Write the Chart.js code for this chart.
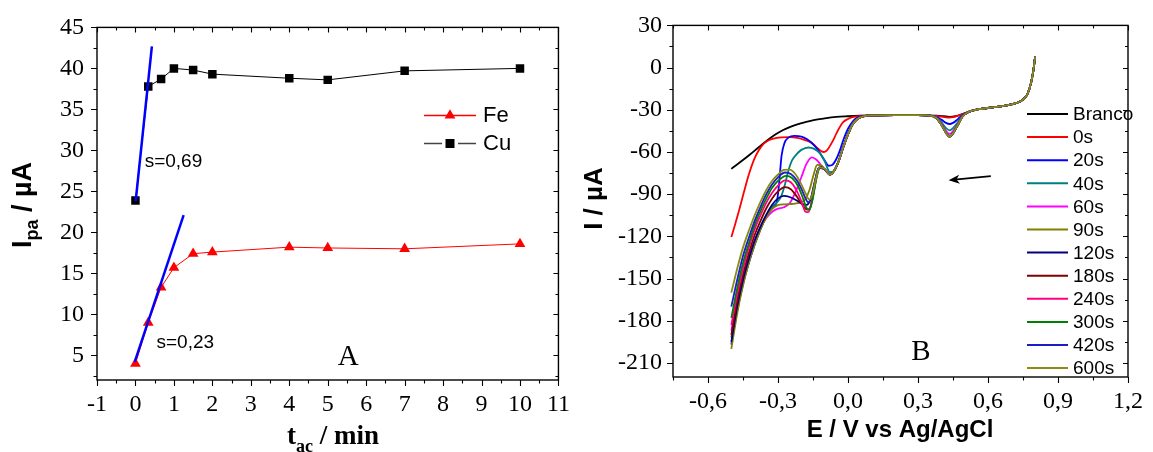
<!DOCTYPE html>
<html><head><meta charset="utf-8">
<script src="https://cdn.jsdelivr.net/npm/chart.js@4/dist/chart.umd.min.js"></script>
<style>
html,body{margin:0;padding:0;background:#fff;}
#wrap{position:relative;width:1153px;height:452px;overflow:hidden;background:#fff;}
canvas{position:absolute;top:0;}
#cA{left:0;} #cB{left:580px;}
</style></head><body>
<div id="wrap"><canvas id="cA" width="580" height="452"></canvas><canvas id="cB" width="573" height="452"></canvas></div>
<script>
// ---------- Panel A data (accumulation time / min vs Ipa / uA) ----------
const tMin   = [0, 0.333, 0.667, 1, 1.5, 2, 4, 5, 7, 10];
const cuIpa  = [23.9, 37.8, 38.7, 40.0, 39.8, 39.3, 38.8, 38.6, 39.7, 40.0];
const feIpa  = [4.0, 9.0, 13.3, 15.7, 17.4, 17.6, 18.2, 18.1, 18.0, 18.6];
const cuFit  = [[0.006, 23.8], [0.427, 42.7]];
const feFit  = [[-0.019, 4.2], [1.253, 22.1]];
const seriesNamesA = ['Fe', 'Cu'];
const slopeLabels = ['s=0,69', 's=0,23'];

// ---------- Panel B data (E / V vs I / uA) ----------
const curveLabels = ['Branco','0s','20s','40s','60s','90s','120s','180s','240s','300s','420s','600s'];
const curveColors = ['#000000','#ff0000','#0000ff','#008080','#ff00ff','#808000','#000080','#800000','#ff0080','#008000','#1c1cc8','#8c8c14'];

const bBranco = [[-0.5,-72],[-0.46,-67],[-0.42,-61.8],[-0.38,-56.3],[-0.34,-51],[-0.31,-47.4],[-0.28,-44.5],[-0.25,-42.3],[-0.217,-40.3],[-0.18,-38.6],[-0.147,-37.3],[-0.1,-36.1],[-0.05,-35.1],[0.0,-34.6],[0.05,-34.2]];
const b0s = [[-0.5,-120.5],[-0.483,-111],[-0.467,-101.6],[-0.446,-88.5],[-0.425,-76],[-0.404,-66],[-0.383,-59],[-0.362,-54.3],[-0.342,-51.8],[-0.31,-50.2],[-0.286,-49.6],[-0.25,-49.5],[-0.217,-50],[-0.19,-51.2],[-0.161,-53],[-0.14,-55.8],[-0.119,-58.9],[-0.106,-60],[-0.095,-59.5],[-0.085,-57.7],[-0.068,-53],[-0.05,-47],[-0.036,-42.5],[-0.022,-39],[0.0,-36.5],[0.019,-35.2],[0.05,-34.4]];
const b20s = [[-0.5,-197],[-0.475,-173],[-0.45,-154],[-0.425,-139],[-0.4,-126],[-0.375,-115],[-0.35,-106],[-0.325,-99.5],[-0.305,-95.5],[-0.295,-82],[-0.285,-63],[-0.272,-53.5],[-0.255,-49.8],[-0.23,-48.6],[-0.2,-49],[-0.175,-51],[-0.15,-54.5],[-0.125,-59.5],[-0.1,-66],[-0.083,-69.8],[-0.068,-69.3],[-0.05,-65],[-0.035,-59],[-0.02,-51.5],[0.0,-43.5],[0.02,-38.3],[0.04,-35.6],[0.07,-34.3]];
const b40s = [[-0.5,-192],[-0.475,-170],[-0.45,-152],[-0.425,-137],[-0.4,-124],[-0.375,-113],[-0.35,-105],[-0.325,-99],[-0.3,-95],[-0.285,-91],[-0.27,-83],[-0.255,-73],[-0.24,-66],[-0.22,-61.5],[-0.2,-58.5],[-0.17,-56.8],[-0.145,-57.8],[-0.12,-61],[-0.1,-66.5],[-0.078,-74.3]];
const b60s = [[-0.5,-187],[-0.475,-166],[-0.45,-149],[-0.425,-135],[-0.4,-123],[-0.375,-114],[-0.35,-107],[-0.325,-102.5],[-0.3,-100.3],[-0.275,-99.3],[-0.25,-96.5],[-0.225,-88.5],[-0.2,-78],[-0.178,-68.5],[-0.155,-63.8],[-0.135,-65.5],[-0.115,-69.5],[-0.095,-73.5],[-0.078,-75.5]];
const b90s = [[-0.5,-200],[-0.475,-175],[-0.45,-155],[-0.425,-139],[-0.4,-126],[-0.375,-115],[-0.35,-106.5],[-0.325,-100.5],[-0.3,-97.8],[-0.27,-97.2],[-0.24,-97],[-0.21,-96.2],[-0.185,-94],[-0.165,-87],[-0.148,-76.5],[-0.132,-69.2],[-0.115,-69.6],[-0.095,-73],[-0.078,-76]];
const b120s = [[-0.5,-195],[-0.475,-170],[-0.45,-151],[-0.425,-136],[-0.4,-123],[-0.375,-113],[-0.35,-104.5],[-0.325,-97.5],[-0.3,-93],[-0.275,-91.2],[-0.25,-92],[-0.22,-94.5],[-0.195,-97],[-0.178,-97.6],[-0.16,-93.5],[-0.145,-83],[-0.13,-73],[-0.118,-70.8],[-0.1,-72.3],[-0.078,-76]];
const b180s = [[-0.5,-190],[-0.475,-166],[-0.45,-147],[-0.425,-132],[-0.4,-119],[-0.375,-109],[-0.35,-100],[-0.325,-93],[-0.3,-88],[-0.27,-85],[-0.245,-86.5],[-0.22,-91.5],[-0.198,-97],[-0.175,-101],[-0.162,-99.5],[-0.148,-89.5],[-0.132,-75.5],[-0.118,-71],[-0.1,-72.5],[-0.078,-76]];
const b240s = [[-0.5,-183],[-0.475,-161],[-0.45,-143],[-0.425,-128],[-0.4,-115],[-0.375,-105],[-0.35,-96],[-0.325,-89],[-0.3,-84],[-0.27,-80.2],[-0.245,-81.5],[-0.22,-87.5],[-0.2,-95],[-0.182,-102.5],[-0.17,-102.8],[-0.155,-95],[-0.138,-80],[-0.122,-71.5],[-0.1,-72.5],[-0.078,-76]];
const b300s = [[-0.5,-178],[-0.475,-157],[-0.45,-139],[-0.425,-125],[-0.4,-112],[-0.375,-102],[-0.35,-93],[-0.325,-85.5],[-0.3,-80.5],[-0.265,-77],[-0.24,-78.5],[-0.215,-84],[-0.195,-92],[-0.177,-100],[-0.166,-101.2],[-0.152,-94],[-0.136,-79.5],[-0.12,-71],[-0.1,-72.3],[-0.078,-76]];
const b420s = [[-0.5,-170],[-0.475,-151],[-0.45,-134],[-0.425,-121],[-0.4,-109],[-0.375,-99],[-0.35,-90],[-0.325,-83],[-0.3,-78],[-0.27,-74.6],[-0.245,-75.6],[-0.22,-80],[-0.2,-86],[-0.182,-93],[-0.17,-95.8],[-0.156,-91.5],[-0.14,-79.5],[-0.125,-71.2],[-0.1,-72.2],[-0.078,-76]];
const b600s = [[-0.5,-160],[-0.475,-143],[-0.45,-128],[-0.425,-116],[-0.4,-105],[-0.375,-95.5],[-0.35,-87],[-0.325,-80.5],[-0.3,-76],[-0.275,-72.8],[-0.25,-72.5],[-0.225,-75.8],[-0.2,-83],[-0.18,-90],[-0.166,-93.8],[-0.152,-90],[-0.137,-78.5],[-0.122,-71],[-0.1,-72],[-0.078,-76]];

const cuRecovery = [[-0.06,-73.5],[-0.04,-66.5],[-0.02,-56.5],[0.0,-47.5],[0.02,-40.3],[0.04,-36.5],[0.07,-34.5]];
const plateauB = [[0.1,-34.0],[0.2,-33.8],[0.3,-33.8],[0.35,-34.1]];
const feBranco = [[0.38,-34.2],[0.41,-34.6],[0.435,-35.0],[0.46,-34.6],[0.49,-33.0]];
const fe0s  = [[0.38,-34.4],[0.40,-34.9],[0.42,-35.4],[0.435,-35.6],[0.45,-35.3],[0.47,-34.4],[0.49,-33.2]];
const fe20s = [[0.38,-35.0],[0.40,-37.0],[0.42,-39.3],[0.435,-40.1],[0.45,-39.3],[0.47,-36.8],[0.49,-33.8]];
const fe40s = [[0.38,-35.4],[0.40,-38.8],[0.42,-43.0],[0.435,-44.6],[0.45,-43.0],[0.47,-39.0],[0.49,-34.4]];
const fe60s = [[0.38,-35.7],[0.40,-39.8],[0.42,-45.0],[0.435,-47.1],[0.45,-45.2],[0.47,-40.2],[0.49,-34.8]];
const feDeep = [[0.38,-36.0],[0.40,-40.5],[0.42,-46.3],[0.435,-49.0],[0.45,-46.8],[0.47,-41.0],[0.49,-35.0]];
const tailB = [[0.52,-31.3],[0.56,-29.6],[0.62,-28.3],[0.68,-26.9],[0.72,-25.3],[0.75,-22.8],[0.77,-18.5],[0.785,-10.5],[0.795,-1.5],[0.802,8]];

const curveParts = [
  [bBranco, plateauB, feBranco, tailB],
  [b0s, plateauB, fe0s, tailB],
  [b20s, plateauB, fe20s, tailB],
  [b40s, cuRecovery, plateauB, fe40s, tailB],
  [b60s, cuRecovery, plateauB, fe60s, tailB],
  [b90s, cuRecovery, plateauB, feDeep, tailB],
  [b120s, cuRecovery, plateauB, feDeep, tailB],
  [b180s, cuRecovery, plateauB, feDeep, tailB],
  [b240s, cuRecovery, plateauB, feDeep, tailB],
  [b300s, cuRecovery, plateauB, feDeep, tailB],
  [b420s, cuRecovery, plateauB, feDeep, tailB],
  [b600s, cuRecovery, plateauB, feDeep, tailB]
];

// annotation anchors (data coordinates)
const arrowTail = [0.612, -77.2], arrowHead = [0.431, -80.1];

// ---------- styling ----------
const SANS = '"Liberation Sans", Arial, sans-serif';
const SERIF = '"Liberation Serif", "Times New Roman", serif';
const toPts = arr => arr.map(([x, y]) => ({x, y}));
const commaFmt = d => v => { if (Math.abs(v) < 1e-9) v = 0; return v.toFixed(d).replace('.', ','); };

function axis(min, max, step, fmt, pad, fitKey, fitVal) {
  return {
    type: 'linear', min, max,
    grid: {display: false, drawTicks: false}, border: {display: false},
    ticks: {stepSize: step, includeBounds: false, autoSkip: false, maxRotation: 0, minRotation: 0,
      padding: pad, color: '#000', font: {family: SERIF, size: 24}, callback: fmt},
    afterFit(s) { s[fitKey] = fitVal; }
  };
}

function framePlugin(xm, ym, lw) {
  return {
    id: 'frame',
    afterDraw(chart) {
      const {ctx, chartArea: a, scales: {x, y}} = chart;
      ctx.save();
      ctx.strokeStyle = '#000';
      ctx.lineWidth = 1.1;
      ctx.beginPath();
      const k0 = Math.ceil(x.min / xm - 1e-6), k1 = Math.floor(x.max / xm + 1e-6);
      for (let k = k0; k <= k1; k++) {
        const px = Math.round(x.getPixelForValue(k * xm)) + 0.5;
        const major = k % 2 === 0;
        ctx.moveTo(px, a.bottom); ctx.lineTo(px, a.bottom + (major ? 6 : 3.5));
        ctx.moveTo(px, a.top); ctx.lineTo(px, a.top + (major ? 5 : 3));
      }
      const j0 = Math.ceil(y.min / ym - 1e-6), j1 = Math.floor(y.max / ym + 1e-6);
      for (let j = j0; j <= j1; j++) {
        const py = Math.round(y.getPixelForValue(j * ym)) + 0.5;
        const major = j % 2 === 0;
        ctx.moveTo(a.left, py); ctx.lineTo(a.left - (major ? 6 : 3.5), py);
        ctx.moveTo(a.right, py); ctx.lineTo(a.right - (major ? 5 : 3), py);
      }
      ctx.stroke();
      ctx.lineWidth = lw;
      ctx.strokeRect(a.left, a.top, a.right - a.left, a.bottom - a.top);
      ctx.restore();
    }
  };
}

function richText(ctx, parts, x, y, rot, align) {
  ctx.save();
  ctx.translate(x, y);
  if (rot) ctx.rotate(rot);
  let total = 0;
  parts.forEach(p => { ctx.font = p.font; p.w = ctx.measureText(p.t).width; total += p.w; });
  let cx = align === 'center' ? -total / 2 : 0;
  ctx.textBaseline = 'alphabetic'; ctx.textAlign = 'left'; ctx.fillStyle = '#000';
  parts.forEach(p => { ctx.font = p.font; ctx.fillText(p.t, cx, p.dy || 0); cx += p.w; });
  ctx.restore();
}

function triangle(ctx, x, y, r) {
  ctx.beginPath();
  for (let i = 0; i < 3; i++) {
    const ang = i * 2 * Math.PI / 3;
    const px = x + Math.sin(ang) * r, py = y - Math.cos(ang) * r;
    if (i === 0) ctx.moveTo(px, py); else ctx.lineTo(px, py);
  }
  ctx.closePath(); ctx.fill();
}

// ---------- Panel A ----------
const annotA = {
  id: 'annotA',
  afterDraw(chart) {
    const {ctx, scales: {x, y}} = chart;
    ctx.save();
    ctx.fillStyle = '#000';
    ctx.font = `19px ${SANS}`; ctx.textAlign = 'left'; ctx.textBaseline = 'middle';
    ctx.fillText(slopeLabels[0], x.getPixelForValue(0.239), y.getPixelForValue(28.65));
    ctx.fillText(slopeLabels[1], x.getPixelForValue(0.548), y.getPixelForValue(6.6));
    ctx.font = `29px ${SERIF}`; ctx.textAlign = 'center'; ctx.textBaseline = 'alphabetic';
    ctx.fillText('A', x.getPixelForValue(5.53), y.getPixelForValue(3.82));
    // legend
    ctx.strokeStyle = '#ff0000'; ctx.lineWidth = 1.3;
    ctx.beginPath(); ctx.moveTo(424, 115.5); ctx.lineTo(476, 115.5); ctx.stroke();
    ctx.fillStyle = '#ff0000'; triangle(ctx, 450, 115.5, 6.2);
    ctx.strokeStyle = '#444'; ctx.lineWidth = 1.3;
    ctx.beginPath(); ctx.moveTo(424, 143.5); ctx.lineTo(442, 143.5); ctx.moveTo(458, 143.5); ctx.lineTo(476, 143.5); ctx.stroke();
    ctx.fillStyle = '#000'; ctx.fillRect(445.5, 139, 9, 9);
    ctx.font = `22px ${SANS}`; ctx.textAlign = 'left'; ctx.textBaseline = 'middle';
    ctx.fillText(seriesNamesA[0], 483, 116);
    ctx.fillText(seriesNamesA[1], 483, 144);
    // axis titles
    richText(ctx, [
      {t: 'I', font: `bold 27px ${SANS}`},
      {t: 'pa', font: `bold 18px ${SANS}`, dy: 7},
      {t: ' / \u00B5A', font: `bold 27px ${SANS}`}
    ], 31, 248, -Math.PI / 2, 'left');
    richText(ctx, [
      {t: 't', font: `bold 27px ${SERIF}`},
      {t: 'ac', font: `bold 18px ${SERIF}`, dy: 8},
      {t: ' / min', font: `bold 27px ${SERIF}`}
    ], 333, 444, 0, 'center');
    ctx.restore();
  }
};

new Chart(document.getElementById('cA'), {
  type: 'line',
  data: {
    datasets: [
      {data: toPts(cuFit), borderColor: '#0000ff', borderWidth: 2.5, pointRadius: 0, order: 0},
      {data: toPts(feFit), borderColor: '#0000ff', borderWidth: 2.5, pointRadius: 0, order: 0},
      {label: seriesNamesA[1], data: tMin.map((t, i) => ({x: t, y: cuIpa[i]})), borderColor: '#000', borderWidth: 1,
        pointStyle: 'rect', pointRadius: 6, pointBackgroundColor: '#000', pointBorderWidth: 0, order: 2},
      {label: seriesNamesA[0], data: tMin.map((t, i) => ({x: t, y: feIpa[i]})), borderColor: '#ff0000', borderWidth: 1,
        pointStyle: 'triangle', pointRadius: 6.2, pointBackgroundColor: '#ff0000', pointBorderWidth: 0, order: 2}
    ]
  },
  options: {
    responsive: false, animation: false, devicePixelRatio: 1,
    layout: {padding: {left: 0, right: 18, top: 25, bottom: 0}},
    plugins: {legend: {display: false}, tooltip: {enabled: false}},
    scales: {
      x: axis(-1, 11, 1, v => String(v), 10, 'height', 72),
      y: axis(2, 45, 5, v => String(v), 13, 'width', 97)
    }
  },
  plugins: [framePlugin(0.5, 2.5, 1.4), annotA]
});

// ---------- Panel B ----------
const annotB = {
  id: 'annotB',
  afterDraw(chart) {
    const {ctx, scales: {x, y}} = chart;
    ctx.save();
    // arrow
    const tx = x.getPixelForValue(arrowTail[0]), ty = y.getPixelForValue(arrowTail[1]);
    const hx = x.getPixelForValue(arrowHead[0]), hy = y.getPixelForValue(arrowHead[1]);
    const ang = Math.atan2(hy - ty, hx - tx);
    ctx.strokeStyle = '#000'; ctx.fillStyle = '#000'; ctx.lineWidth = 1.6;
    ctx.beginPath(); ctx.moveTo(tx, ty); ctx.lineTo(hx - Math.cos(ang) * 6, hy - Math.sin(ang) * 6); ctx.stroke();
    ctx.beginPath();
    ctx.moveTo(hx, hy);
    ctx.lineTo(hx - Math.cos(ang) * 11 + Math.sin(ang) * 4.5, hy - Math.sin(ang) * 11 - Math.cos(ang) * 4.5);
    ctx.lineTo(hx - Math.cos(ang) * 8, hy - Math.sin(ang) * 8);
    ctx.lineTo(hx - Math.cos(ang) * 11 - Math.sin(ang) * 4.5, hy - Math.sin(ang) * 11 + Math.cos(ang) * 4.5);
    ctx.closePath(); ctx.fill();
    // panel letter
    ctx.font = `29px ${SERIF}`; ctx.textAlign = 'center'; ctx.textBaseline = 'alphabetic';
    ctx.fillText('B', 341, 360);
    // legend
    ctx.font = `19px ${SANS}`; ctx.textAlign = 'left'; ctx.textBaseline = 'middle';
    curveLabels.forEach((lab, i) => {
      const ry = 114 + i * 23.1;
      ctx.strokeStyle = curveColors[i]; ctx.lineWidth = 2;
      ctx.beginPath(); ctx.moveTo(447, ry); ctx.lineTo(488, ry); ctx.stroke();
      ctx.fillStyle = '#000'; ctx.fillText(lab, 493, ry + 1);
    });
    // axis titles
    richText(ctx, [{t: 'I / \u00B5A', font: `bold 26px ${SANS}`}], 22, 198.5, -Math.PI / 2, 'center');
    richText(ctx, [{t: 'E / V vs Ag/AgCl', font: `bold 24px ${SANS}`}], 320, 437, 0, 'center');
    ctx.restore();
  }
};

new Chart(document.getElementById('cB'), {
  type: 'line',
  data: {
    datasets: curveParts.map((parts, i) => ({
      label: curveLabels[i],
      data: toPts(parts.flat()),
      borderColor: curveColors[i], borderWidth: 1.8, pointRadius: 0,
      cubicInterpolationMode: 'monotone', fill: false,
      order: curveParts.length - i
    }))
  },
  options: {
    responsive: false, animation: false, devicePixelRatio: 1,
    layout: {padding: {left: 0, right: 16, top: 25, bottom: 0}},
    plugins: {legend: {display: false}, tooltip: {enabled: false}},
    scales: {
      x: axis(-0.75, 1.2, 0.3, commaFmt(1), 10, 'height', 75),
      y: axis(-220, 30, 30, v => String(v), 11, 'width', 93)
    }
  },
  plugins: [framePlugin(0.15, 15, 1.4), annotB]
});
</script>
</body></html>
